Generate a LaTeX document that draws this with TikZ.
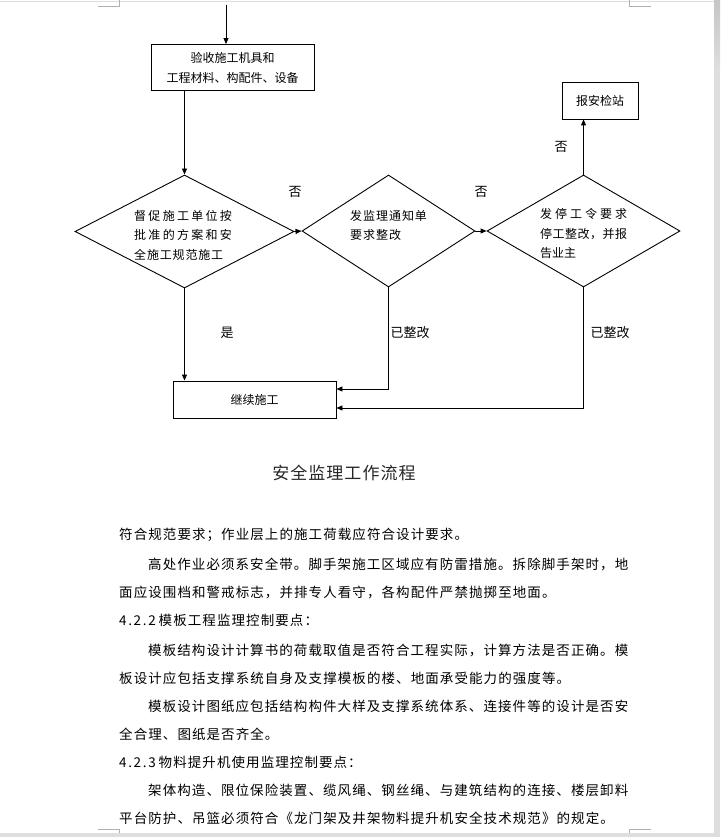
\documentclass[tikz,border=0pt]{standalone}
\usepackage{fontspec}
\setmainfont{Noto Sans CJK SC}
\usetikzlibrary{shapes.geometric,arrows.meta}
\definecolor{pagegray}{HTML}{DEDEDE}
\definecolor{pagegraydark}{HTML}{C6C6C6}
\definecolor{markgray}{HTML}{B0B0B0}
\newcommand{\hw}[1]{\makebox[7.3pt]{#1}}
\begin{document}
\begin{tikzpicture}[x=1pt,y=-1pt,
  arr/.style={line width=0.9pt,-{Triangle[length=6pt,width=5pt]}},
  box/.style={draw,line width=0.9pt,inner sep=0pt,font=\fontsize{12}{20}\selectfont,align=center},
  dia/.style={draw,diamond,line width=0.9pt,inner sep=0pt},
  dtxt/.style={anchor=west,inner sep=0pt,font=\fontsize{12}{19.5}\selectfont,align=left},
  lab/.style={inner sep=0pt,font=\fontsize{13}{14}\selectfont},
  body/.style={anchor=west,inner sep=0pt,font=\fontsize{13.5}{16}\selectfont\addfontfeatures{LetterSpace=8}},
  ttl/.style={inner sep=0pt,text=black!85,font=\fontsize{17}{20}\selectfont\addfontfeatures{LetterSpace=6}},
  cornermark/.style={draw=markgray,line width=0.8pt}
]
\useasboundingbox (0,0) rectangle (720,837);
% page
\fill[pagegray] (0,0) rectangle (720,837);
\shade[top color=pagegraydark,bottom color=pagegray] (714,0) rectangle (720,70);
\fill[white] (0,0) rectangle (714,833);
\draw[pagegray,line width=1pt] (0,1.5) -- (714,1.5);
\draw[cornermark] (98,6) -- (119,6) -- (119,0);
\draw[cornermark] (629,0) -- (629,6) -- (651,6);
\draw[cornermark] (98,829) -- (119,829) -- (119,833);
\draw[cornermark] (651,829) -- (629,829) -- (629,833);

% flowchart nodes
\node[box,minimum width=163pt,minimum height=46pt] (b1) at (232.5,67.5) {验收施工机具和\\工程材料、构配件、设备};
\node[box,minimum width=76pt,minimum height=37pt] (bao) at (600,100.5) {报安检站};
\node[box,minimum width=163pt,minimum height=37pt] (cont) at (254.5,399.5) {继续施工};

\node[dia,minimum width=219pt,minimum height=113pt] (d1) at (184.5,231.5) {};
\node[dia,minimum width=173pt,minimum height=112pt] (d2) at (388.5,231) {};
\node[dia,minimum width=193pt,minimum height=112pt] (d3) at (583.5,231) {};

\node[dtxt] (d1t) at (134,235) {{\addfontfeatures{LetterSpace=19}督促施工单位按}\\{\addfontfeatures{LetterSpace=19}批准的方案和安}\\{\addfontfeatures{LetterSpace=7}全施工规范施工}};
\node[dtxt] (d2t) at (350,225.5) {{\addfontfeatures{LetterSpace=8}发监理通知单}\\{\addfontfeatures{LetterSpace=8}要求整改}};
\node[dtxt] (d3t) at (540,233.5) {{\addfontfeatures{LetterSpace=25}发停工令要求}\\{\addfontfeatures{LetterSpace=4}停工整改，并报}\\告业主};

% labels
\node[lab] (n1) at (295,192) {否};
\node[lab] (n2) at (481,192) {否};
\node[lab] (n3) at (561,147) {否};
\node[lab] (y1) at (227,333) {是};
\node[lab] (r1) at (410,333) {已整改};
\node[lab] (r2) at (610,333) {已整改};

% connectors
\coordinate (top) at (226,5);
\coordinate (k2) at (389,389);
\coordinate (k3) at (583,408);
\draw[arr] (top) -- (top |- b1.north);
\draw[arr] (b1.south -| d1.north) -- (d1.north);
\draw[arr] (d1.east) -- (d2.west);
\draw[arr] (d2.east) -- (d3.west);
\draw[arr] (d3.north) -- (d3.north |- bao.south);
\draw[arr] (d1.south) -- (d1.south |- cont.north);
\draw[arr] (d2.south) |- (cont.east |- k2);
\draw[arr] (d3.south) |- (cont.east |- k3);

% caption
\node[ttl] (title) at (344,473) {安全监理工作流程};

% body text
\node[body] (l1) at (119,535) {符合规范要求；作业层上的施工荷载应符合设计要求。};
\node[body] (l2) at (148,564) {高处作业必须系安全带。脚手架施工区域应有防雷措施。拆除脚手架时，地};
\node[body] (l3) at (119,592) {面应设围档和警戒标志，并排专人看守，各构配件严禁抛掷至地面。};
\node[body] (l4) at (119,620) {\hw{4}\hw{.}\hw{2}\hw{.}\hw{2}\hspace{3pt}模板工程监理控制要点：};
\node[body] (l5) at (148,650) {模板结构设计计算书的荷载取值是否符合工程实际，计算方法是否正确。模};
\node[body] (l6) at (119,678) {板设计应包括支撑系统自身及支撑模板的楼、地面承受能力的强度等。};
\node[body] (l7) at (148,706) {模板设计图纸应包括结构构件大样及支撑系统体系、连接件等的设计是否安};
\node[body] (l8) at (119,734) {全合理、图纸是否齐全。};
\node[body] (l9) at (119,762) {\hw{4}\hw{.}\hw{2}\hw{.}\hw{3}\hspace{3pt}物料提升机使用监理控制要点：};
\node[body] (l10) at (148,790) {架体构造、限位保险装置、缆风绳、钢丝绳、与建筑结构的连接、楼层卸料};
\node[body] (l11) at (119,818) {平台防护、吊篮必须符合《龙门架及井架物料提升机安全技术规范》的规定。};
\end{tikzpicture}
\end{document}
